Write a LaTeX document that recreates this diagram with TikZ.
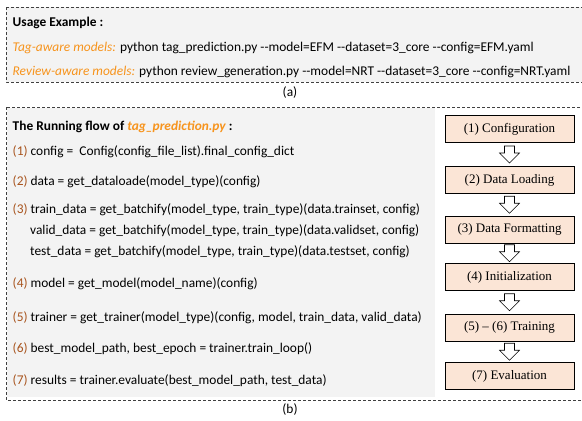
\documentclass[tikz,border=0pt]{standalone}
\usepackage{fontspec}
\setmainfont{Carlito}
\newfontfamily\tnr{Liberation Serif}
\usetikzlibrary{calc}
\definecolor{bgray}{HTML}{F3F3F3}
\definecolor{peach}{HTML}{FBE5D6}
\definecolor{orng}{HTML}{F7941D}
\definecolor{brn}{HTML}{A8541E}
\definecolor{dashc}{HTML}{404040}
\begin{document}
\begin{tikzpicture}[x=1pt,y=-1pt,
  dashbox/.style={draw=dashc,line width=0.6pt,dash pattern=on 3pt off 2pt},
  txt/.style={anchor=west,inner sep=0pt,font=\fontsize{13.4}{15}\selectfont},
  lbl/.style={inner sep=0pt,font=\fontsize{13.4}{15}\selectfont},
  flowbox/.style={draw,line width=0.5pt,fill=peach,minimum width=129pt,minimum height=27pt,inner sep=0pt,font=\tnr\fontsize{13}{15}\selectfont},
  downarr/.pic={\draw[fill=white,line width=0.6pt] (-5,-8.5) -- (5,-8.5) -- (5,-1.5) -- (10,-1.5) -- (0,8.5) -- (-10,-1.5) -- (-5,-1.5) -- cycle;}
]
\useasboundingbox (0,0) rectangle (582,421);
\begin{scope}
\clip (0,0) rectangle (582,421);
% (a) box
\fill[bgray] (6,7) rectangle (600,82);
\draw[dashbox] (6,7) rectangle (600,82);
% (b) box
\fill[bgray] (7,108) rectangle (435,397);
\draw[dashbox] (6,107) rectangle (600,400);
\end{scope}

\node[txt] (ue) at (12.5,23) {\textbf{Usage Example :}};
\node[txt] (tag) at (12.5,48) {\textcolor{orng}{\itshape Tag-aware models:} python tag\_prediction.py -{}-model=EFM -{}-dataset=3\_core -{}-config=EFM.yaml};
\node[txt] (rev) at (12.5,72) {\textcolor{orng}{\itshape Review-aware models:} python review\_generation.py -{}-model=NRT -{}-dataset=3\_core -{}-config=NRT.yaml};
\node[lbl] (la) at (290,93) {(a)};

\node[txt] (title) at (12.5,127) {\textbf{The Running flow of \textcolor{orng}{\itshape tag\_prediction.py} :}};
\node[txt] (l1) at (12.5,152) {\textcolor{brn}{(1)} config = \ Config(config\_file\_list).final\_config\_dict};
\node[txt] (l2) at (12.5,182) {\textcolor{brn}{(2)} data = get\_dataloade(model\_type)(config)};
\node[txt] (l3) at (12.5,210) {\textcolor{brn}{(3)} train\_data = get\_batchify(model\_type, train\_type)(data.trainset, config)};
\node[txt] (l3b) at (30,231) {valid\_data = get\_batchify(model\_type, train\_type)(data.validset, config)};
\node[txt] (l3c) at (30,252) {test\_data = get\_batchify(model\_type, train\_type)(data.testset, config)};
\node[txt] (l4) at (12.5,284) {\textcolor{brn}{(4)} model = get\_model(model\_name)(config)};
\node[txt] (l5) at (12.5,318) {\textcolor{brn}{(5)} trainer = get\_trainer(model\_type)(config, model, train\_data, valid\_data)};
\node[txt] (l6) at (12.5,349) {\textcolor{brn}{(6)} best\_model\_path, best\_epoch = trainer.train\_loop()};
\node[txt] (l7) at (12.5,381) {\textcolor{brn}{(7)} results = trainer.evaluate(best\_model\_path, test\_data)};
\node[lbl] (lb) at (290,410) {(b)};

\node[flowbox] (b1) at (509.5,129) {(1) Configuration};
\node[flowbox] (b2) at (509.5,180) {(2) Data Loading};
\node[flowbox] (b3) at (509.5,229.5) {(3) Data Formatting};
\node[flowbox] (b4) at (509.5,277) {(4) Initialization};
\node[flowbox] (b5) at (509.5,327.5) {(5) – (6) Training};
\node[flowbox] (b7) at (509.5,376) {(7) Evaluation};

\foreach \a/\b in {b1/b2,b2/b3,b3/b4,b4/b5,b5/b7}{
  \path ($(\a.south)!0.5!(\b.north)$) pic {downarr};
}
\end{tikzpicture}
\end{document}
